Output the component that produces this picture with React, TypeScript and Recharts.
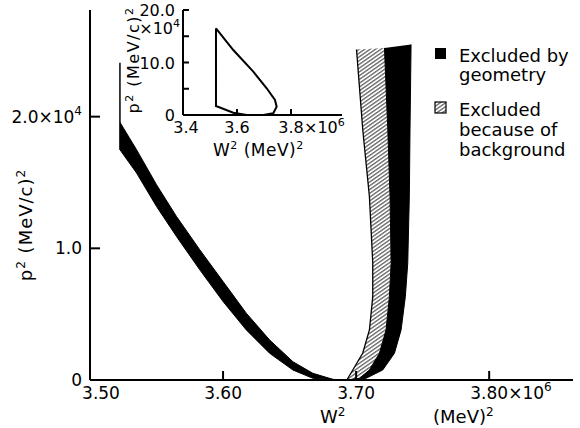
import React from "react";
import { ScatterChart, Scatter, XAxis, YAxis, Legend } from "recharts";

const FONT = "DejaVu Sans, sans-serif";

// main panel: W^2 in 10^6 (MeV)^2, p^2 in 10^4 (MeV/c)^2
const leftOuter: [number, number][] = [
  [3.5225, 1.957], [3.535, 1.749], [3.55, 1.483], [3.565, 1.242], [3.5825, 0.989],
  [3.6, 0.748], [3.6175, 0.507], [3.635, 0.304], [3.6525, 0.139], [3.6675, 0.051],
  [3.6825, 0.005], [3.69, 0],
];
const leftInner: [number, number][] = [
  [3.5225, 1.749], [3.535, 1.572], [3.55, 1.318], [3.565, 1.09], [3.5825, 0.837],
  [3.6, 0.596], [3.6175, 0.38], [3.635, 0.203], [3.6525, 0.076], [3.6675, 0.013],
  [3.69, 0],
];
// right side, top to bottom
const backgroundEdge: [number, number][] = [
  [3.7003, 2.51], [3.705, 1.901], [3.71, 1.392], [3.7125, 0.89], [3.7125, 0.631],
  [3.71, 0.38], [3.705, 0.205], [3.6975, 0.076], [3.693, 0],
];
const rightInner: [number, number][] = [
  [3.7213, 2.522], [3.7238, 1.901], [3.7255, 1.394], [3.7263, 0.887], [3.725, 0.633],
  [3.7225, 0.38], [3.7175, 0.203], [3.71, 0.076], [3.7025, 0.013], [3.693, 0],
];
const rightOuter: [number, number][] = [
  [3.7413, 2.548], [3.7405, 1.901], [3.74, 1.394], [3.7388, 0.887], [3.737, 0.633],
  [3.7338, 0.38], [3.7288, 0.203], [3.72, 0.076], [3.7075, 0.013], [3.693, 0],
];
const minimumCut: [number, number][] = [[3.5225, 2.41], [3.5225, 1.749]];

const mainXTicks = [3.5, 3.6, 3.7, 3.8];
const mainXLabels = ["3.50", "3.60", "3.70", "3.80"];
const mainYTicks = [0, 1, 2];
const mainYLabels = ["0", "1.0", "2.0"];

// inset: p^2 in 10^4 (MeV/c)^2
const insetContour: [number, number][] = [
  [3.5222, 16.51], [3.5863, 12.38], [3.6604, 8.25], [3.71, 5.09], [3.7407, 2.86],
  [3.747, 1.58], [3.7344, 0.32], [3.6974, 0], [3.636, 0], [3.5863, 0.44],
  [3.5222, 1.71], [3.5222, 16.51],
];
const insetXTicks = [3.4, 3.6, 3.8];
const insetXLabels = ["3.4", "3.6", "3.8"];
const insetYTicks = [0, 5, 10, 15, 20];
const insetYLabels = ["0", "", "10.0", "", "20.0"];

const legendLabels = [["Excluded by", "geometry"], ["Excluded", "because of", "background"]];

const toPts = (arr: [number, number][]) => arr.map(([w, p]) => ({ w, p }));
const rev = (arr: [number, number][]) => arr.slice().reverse();

const geometryLeft = toPts([...leftOuter, ...rev(leftInner)]);
const geometryRight = toPts([...rightOuter, ...rev(rightInner)]);
const background = toPts([...rightInner, ...rev(backgroundEdge)]);

const noDot = () => <g />;

const MainXTick = (props: any) => {
  const { x, y, payload } = props;
  const i = mainXTicks.indexOf(payload.value);
  const last = i === mainXTicks.length - 1;
  return (
    <g>
      {i > 0 && <line x1={x} x2={x} y1={y} y2={y - 9} stroke="#000" strokeWidth={2} />}
      <text x={x + (i === 0 ? 11 : 0)} y={y + 19} textAnchor="middle" fontSize={17} fontFamily={FONT} fill="#000">
        {mainXLabels[i]}
      </text>
      {last && (
        <text x={x + 19} y={y + 19} fontSize={17} fontFamily={FONT} fill="#000">
          ×10<tspan dy={-8} fontSize={12}>6</tspan>
        </text>
      )}
    </g>
  );
};

const MainYTick = (props: any) => {
  const { x, y, payload } = props;
  const i = mainYTicks.indexOf(payload.value);
  const last = i === mainYTicks.length - 1;
  return (
    <g>
      {i > 0 && <line x1={x} x2={x + 10} y1={y} y2={y} stroke="#000" strokeWidth={2} />}
      <text x={x - 8} y={y + 6} textAnchor="end" fontSize={17} fontFamily={FONT} fill="#000">
        {mainYLabels[i]}
        {last && (
          <>
            ×10<tspan dy={-8} fontSize={12}>4</tspan>
          </>
        )}
      </text>
    </g>
  );
};

const InsetXTick = (props: any) => {
  const { x, y, payload } = props;
  const i = insetXTicks.indexOf(payload.value);
  const last = i === insetXTicks.length - 1;
  return (
    <g>
      {i > 0 && <line x1={x} x2={x} y1={y} y2={y - 6} stroke="#000" strokeWidth={2} />}
      <text x={x + (i === 0 ? 3 : 0)} y={y + 18} textAnchor="middle" fontSize={16} fontFamily={FONT} fill="#000">
        {insetXLabels[i]}
      </text>
      {last && (
        <text x={x + 13} y={y + 18} fontSize={16} fontFamily={FONT} fill="#000">
          ×10<tspan dy={-7} fontSize={11}>6</tspan>
        </text>
      )}
    </g>
  );
};

const InsetYTick = (props: any) => {
  const { x, y, payload } = props;
  const i = insetYTicks.indexOf(payload.value);
  const last = i === insetYTicks.length - 1;
  return (
    <g>
      {i > 0 && <line x1={x} x2={x + 6} y1={y} y2={y} stroke="#000" strokeWidth={2} />}
      <text x={x - 8} y={y + 6} textAnchor="end" fontSize={16} fontFamily={FONT} fill="#000">
        {insetYLabels[i]}
      </text>
      {last && (
        <text x={x - 3} y={y + 24} textAnchor="end" fontSize={16} fontFamily={FONT} fill="#000">
          ×10<tspan dy={-7} fontSize={11}>4</tspan>
        </text>
      )}
    </g>
  );
};

const renderLegend = () => (
  <svg width={150} height={130}>
    <rect x={5} y={8} width={11} height={11} fill="#000" />
    <rect x={5} y={62} width={11} height={11} fill="url(#hatch)" stroke="#000" strokeWidth={1.2} />
    {legendLabels[0].map((t, k) => (
      <text key={t} x={29} y={22 + k * 19} fontSize={18} fontFamily={FONT} fill="#000">{t}</text>
    ))}
    {legendLabels[1].map((t, k) => (
      <text key={t} x={29} y={76 + k * 20} fontSize={18} fontFamily={FONT} fill="#000">{t}</text>
    ))}
  </svg>
);

export default function App() {
  return (
    <div style={{ position: "absolute", left: 0, top: 0, width: 580, height: 428, background: "#fff" }}>
      <svg width={0} height={0} style={{ position: "absolute" }}>
        <defs>
          <pattern id="hatch" patternUnits="userSpaceOnUse" width={6} height={3.1} patternTransform="rotate(-35)">
            <line x1={0} y1={1.5} x2={6} y2={1.5} stroke="#000" strokeWidth={0.8} />
          </pattern>
        </defs>
      </svg>

      <div style={{ position: "absolute", left: 0, top: 0 }}>
        <ScatterChart width={580} height={428} margin={{ top: 10, right: 7, bottom: 0, left: 0 }}>
          <XAxis
            type="number"
            dataKey="w"
            domain={[3.5, 3.863]}
            ticks={mainXTicks}
            interval={0}
            allowDataOverflow
            height={48}
            stroke="#000"
            axisLine={{ stroke: "#000", strokeWidth: 2 }}
            tickLine={false}
            tickSize={0}
            tickMargin={0}
            tick={(p: any) => <MainXTick {...p} />}
          />
          <YAxis
            type="number"
            dataKey="p"
            domain={[0, 2.81]}
            ticks={mainYTicks}
            interval={0}
            allowDataOverflow
            width={90}
            stroke="#000"
            axisLine={{ stroke: "#000", strokeWidth: 2 }}
            tickLine={false}
            tickSize={0}
            tickMargin={0}
            tick={(p: any) => <MainYTick {...p} />}
          />
          <Scatter data={geometryLeft} shape={noDot} line={{ fill: "#000", stroke: "#000", strokeWidth: 1 }} isAnimationActive={false} />
          <Scatter data={geometryRight} shape={noDot} line={{ fill: "#000", stroke: "#000", strokeWidth: 1 }} isAnimationActive={false} />
          <Scatter data={background} shape={noDot} line={{ fill: "url(#hatch)", stroke: "none" }} isAnimationActive={false} />
          <Scatter data={toPts(backgroundEdge)} shape={noDot} line={{ fill: "none", stroke: "#000", strokeWidth: 1.3 }} isAnimationActive={false} />
          <Scatter data={toPts(minimumCut)} shape={noDot} line={{ fill: "none", stroke: "#000", strokeWidth: 1.5 }} isAnimationActive={false} />
          <Legend
            content={renderLegend}
            layout="vertical"
            align="center"
            verticalAlign="middle"
            wrapperStyle={{ left: 430, top: 40, width: 150, height: 130 }}
          />
        </ScatterChart>
      </div>

      <div style={{ position: "absolute", left: 120, top: 0 }}>
        <ScatterChart width={240} height={175} margin={{ top: 10, right: 18, bottom: 0, left: 0 }}>
          <XAxis
            type="number"
            dataKey="w"
            domain={[3.4, 3.989]}
            ticks={insetXTicks}
            interval={0}
            allowDataOverflow
            height={60}
            stroke="#000"
            axisLine={{ stroke: "#000", strokeWidth: 2 }}
            tickLine={false}
            tickSize={0}
            tickMargin={0}
            tick={(p: any) => <InsetXTick {...p} />}
          />
          <YAxis
            type="number"
            dataKey="p"
            domain={[0, 20]}
            ticks={insetYTicks}
            interval={0}
            allowDataOverflow
            width={63}
            stroke="#000"
            axisLine={{ stroke: "#000", strokeWidth: 2 }}
            tickLine={false}
            tickSize={0}
            tickMargin={0}
            tick={(p: any) => <InsetYTick {...p} />}
          />
          <Scatter data={toPts(insetContour)} shape={noDot} line={{ fill: "none", stroke: "#000", strokeWidth: 2 }} isAnimationActive={false} />
        </ScatterChart>
      </div>

      <svg width={580} height={428} style={{ position: "absolute", left: 0, top: 0, pointerEvents: "none" }}>
        <g fontFamily={FONT} fill="#000">
          <text transform="translate(32,225) rotate(-90)" textAnchor="middle" fontSize={18} letterSpacing={1}>
            p<tspan dy={-7} fontSize={12}>2</tspan>
            <tspan dy={7}> (MeV/c)</tspan>
            <tspan dy={-7} fontSize={12}>2</tspan>
          </text>
          <text x={320} y={423} fontSize={18}>
            W<tspan dy={-7} fontSize={12}>2</tspan>
          </text>
          <text x={433} y={423} fontSize={18}>
            (MeV)<tspan dy={-7} fontSize={12}>2</tspan>
          </text>
          <text transform="translate(139,60) rotate(-90)" textAnchor="middle" fontSize={16} letterSpacing={1.5}>
            p<tspan dy={-6} fontSize={11}>2</tspan>
            <tspan dy={6}> (MeV/c)</tspan>
            <tspan dy={-6} fontSize={11}>2</tspan>
          </text>
          <text x={213} y={156} fontSize={17} letterSpacing={0.5}>
            W<tspan dy={-7} fontSize={11}>2</tspan>
            <tspan dy={7}>  (MeV)</tspan>
            <tspan dy={-7} fontSize={11}>2</tspan>
          </text>
        </g>
      </svg>
    </div>
  );
}
